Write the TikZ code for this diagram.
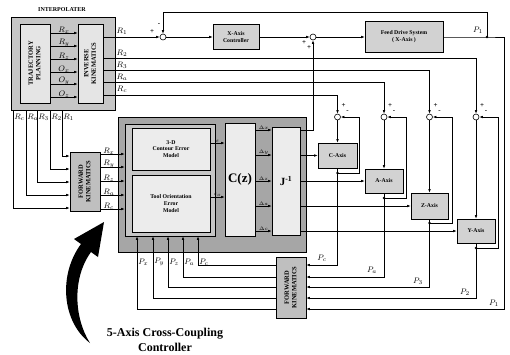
\documentclass[tikz,border=0pt]{standalone}
\usepackage{fontspec}
\setmainfont{Liberation Serif}
\usepackage{graphicx}
\usetikzlibrary{arrows.meta,calc}

\begin{document}
\begin{tikzpicture}[x=1pt,y=-1pt,line width=0.6pt,
 blk/.style={draw,fill=gray!35,inner sep=0pt,align=center,font=\fontsize{5.8}{6.8}\selectfont\bfseries},
 rot/.style={font=\fontsize{6.5}{7.5}\selectfont\bfseries},
 sumj/.style={draw,circle,fill=white,minimum size=6pt,inner sep=0pt},
 arr/.style={-{Latex[length=3.5pt,width=2.6pt]}},
 lbl/.style={font=\fontsize{8.5}{9}\selectfont,inner sep=1pt},
 slbl/.style={font=\fontsize{5.5}{6}\selectfont,inner sep=0.5pt},
 sgn/.style={font=\fontsize{7}{7}\selectfont\bfseries,inner sep=0pt},
 jdot/.style={circle,fill,inner sep=0pt,minimum size=2.6pt}]
\useasboundingbox (0,0) rectangle (510,354);
% interpolater
\node[blk,fill=gray!45,minimum width=104pt,minimum height=93pt] (interp) at (63,63.5) {};
\node[font=\fontsize{6}{7}\selectfont\bfseries] (ttl) at (62,10) {INTERPOLATER};
\node[blk,rot,fill=gray!20,minimum width=30pt,minimum height=79pt] (traj) at (35,63.5) {\rotatebox{90}{\begin{tabular}{@{}c@{}}TRAJECTORY\\PLANNING\end{tabular}}};
\node[blk,rot,fill=gray!20,minimum width=25pt,minimum height=79pt] (ik) at (90.5,63.5) {\rotatebox{90}{\begin{tabular}{@{}c@{}}INVERSE\\KINEMATICS\end{tabular}}};
\foreach \y/\lab in {33/R_x,46/R_y,59/R_z,72/O_x,84/O_y,97/O_z}
  \draw[arr] (traj.east |- 0,\y) -- node[lbl,above=-1.5pt] {$\lab$} (ik.west |- 0,\y);

% x-axis loop
\node[sumj] (s1) at (163,37) {};
\node[blk,minimum width=46pt,minimum height=25pt] (xctl) at (236,37) {X-Axis\\Controller};
\node[sumj] (s2) at (313,37) {};
\node[blk,minimum width=78pt,minimum height=31pt] (fds) at (404,37) {Feed Drive System\\( X-Axis )};
\coordinate (p1) at (487,37);
\coordinate (p1r) at (504,37);
\node[jdot] (p1d) at (p1) {};
\draw[arr] (ik.east |- s1) -- (s1);
\draw[arr] (s1) -- (xctl);
\draw[arr] (xctl) -- (s2);
\draw[arr] (s2) -- (fds);
\draw (fds) -- (p1) -- (p1r);
\draw[arr] (p1) -- ++(0,-25) -| (s1);
\node[sgn] (s1p) at (152,32) {+};
\node[sgn] (s1m) at (159,25) {-};
\node[sgn] (s2p) at (304,43) {+};
\node[sgn] (s2q) at (309,48) {+};
\node[lbl] (lp1) at (478,30) {$P_1$};

% reference lines and summers of the other axes
\node[sumj] (sc) at (337.5,117) {};
\node[sumj] (sa) at (384,117) {};
\node[sumj] (sz) at (429.5,117) {};
\node[sumj] (sy) at (476,117) {};
\draw[arr] (ik.east |- 0,58) -| (sy);
\draw[arr] (ik.east |- 0,70) -| (sz);
\draw[arr] (ik.east |- 0,82) -| (sa);
\draw[arr] (ik.east |- 0,95) -| (sc);
\foreach \y/\lab [count=\i] in {31/R_1,53/R_2,65/R_3,77/R_a,89/R_c}
  \node[lbl] (lr\i) at (122,\y) {$\lab$};
\foreach \s in {sc,sa,sz,sy} {
  \node[sgn] (\s-pl) at ($(\s)+(6,-11)$) {+};
  \node[sgn] (\s-mi) at ($(\s)+(10,-5)$) {-};
}

% cross-coupling controller
\node[blk,fill=gray!70,minimum width=188pt,minimum height=135pt] (ccc) at (212,184.5) {};
\node[blk,fill=gray!45,minimum width=90pt,minimum height=112pt] (mid) at (170,180) {};
\node[blk,fill=gray!15,minimum width=78pt,minimum height=42pt] (cem) at (171,149) {3-D\\Contour Error\\Model};
\node[blk,fill=gray!15,minimum width=78pt,minimum height=57pt] (toem) at (171,203.5) {Tool Orientation\\Error\\Model};
\node[blk,fill=gray!15,minimum width=30pt,minimum height=113pt,font=\fontsize{13}{14}\selectfont\bfseries] (cz) at (240,179.5) {C(z)};
\node[blk,fill=gray!15,minimum width=28pt,minimum height=108pt,font=\fontsize{11}{12}\selectfont\bfseries] (jinv) at (286,181) {J\textsuperscript{-1}};
\draw[arr] (cem.east |- 0,143) -- node[slbl,above] {$\varepsilon$} (cz.west |- 0,143);
\draw[arr] (toem.east |- 0,197) -- node[slbl,above] {$\varepsilon_o$} (cz.west |- 0,197);
\foreach \y/\lab in {130/\Delta x,155/\Delta y,181/\Delta z,206/\Delta a,231/\Delta c}
  \draw[arr] (cz.east |- 0,\y) -- node[slbl,above] {$\lab$} (jinv.west |- 0,\y);
\draw[arr] (jinv.east |- 0,130) -| (s2);

% axis drives
\node[blk,minimum width=39pt,minimum height=25pt] (cax) at (337.5,155.5) {C-Axis};
\node[blk,minimum width=38pt,minimum height=24pt] (aax) at (384,181) {A-Axis};
\node[blk,minimum width=37pt,minimum height=26pt] (zax) at (429.5,206) {Z-Axis};
\node[blk,minimum width=38pt,minimum height=24pt] (yax) at (476,231) {Y-Axis};
\node[blk,rot,fill=gray!50,minimum width=30pt,minimum height=61pt] (fk2) at (291,287.5) {\rotatebox{90}{\begin{tabular}{@{}c@{}}FORWARD\\KINEMATICS\end{tabular}}};
\foreach \ax/\sm/\yo/\dx/\yp in {cax/sc/173/21.5/265,aax/sa/198/22/277,zax/sz/223/22.5/287,yax/sy/248/22/298} {
  \draw[arr] (jinv.east |- \ax) -- (\ax);
  \draw[arr] (\sm) -- (\ax);
  \coordinate (\ax-o) at (\ax |- 0,\yo);
  \node[jdot] (\ax-d) at (\ax-o) {};
  \draw (\ax) -- (\ax-o);
  \draw[arr] (\ax-o) -- ++(\dx,0) |- (\sm);
  \draw[arr] (\ax-o) |- (fk2.east |- 0,\yp);
}
\draw[arr] (p1r) |- (fk2.east |- 0,309);
\node[lbl] (lpc) at (322,258) {$P_c$};
\node[lbl] (lpa) at (372,270) {$P_a$};
\node[lbl] (lp3) at (418,281) {$P_3$};
\node[lbl] (lp2) at (465,292) {$P_2$};
\node[lbl] (lp1b) at (494,303) {$P_1$};

% forward kinematics into the controller
\node[blk,rot,fill=gray!50,minimum width=30pt,minimum height=59pt] (fk1) at (85,181.5) {\rotatebox{90}{\begin{tabular}{@{}c@{}}FORWARD\\KINEMATICS\end{tabular}}};
\foreach \x/\y/\lab [count=\i] in {13/208/R_c,26/195/R_a,37/182/R_3,50/169/R_2,62/156/R_1} {
  \draw[arr] (interp.south -| \x,0) |- (fk1.west |- 0,\y);
  \node[lbl,anchor=west] (lb\i) at (\x,117) {$\lab$};
}
\foreach \y/\lab in {154/R_x,167/R_y,181/R_z,195/R_a,209/R_c}
  \draw[arr] (fk1.east |- 0,\y) -- node[lbl,above=-1.5pt,pos=0.35] {$\lab$} (mid.west |- 0,\y);
\foreach \y/\x/\lab [count=\i] in {265/198/P_c,277/183/P_a,287/168/P_z,298/153/P_y,309/137/P_x} {
  \draw[arr] (fk2.west |- 0,\y) -| (mid.south -| \x,0);
  \node[lbl,anchor=west] (lq\i) at (\x,262) {$\lab$};
}

% curved pointer and caption
\fill (90,343) .. controls (62,322) and (58,275) .. (81,244) -- (74,239) -- (104,222) -- (98,257) -- (91,252) .. controls (72,278) and (74,318) .. (90,343) -- cycle;
\node[font=\fontsize{12}{15}\selectfont\bfseries,align=center] (cap) at (165,340) {5-Axis Cross-Coupling\\Controller};
\end{tikzpicture}
\end{document}
